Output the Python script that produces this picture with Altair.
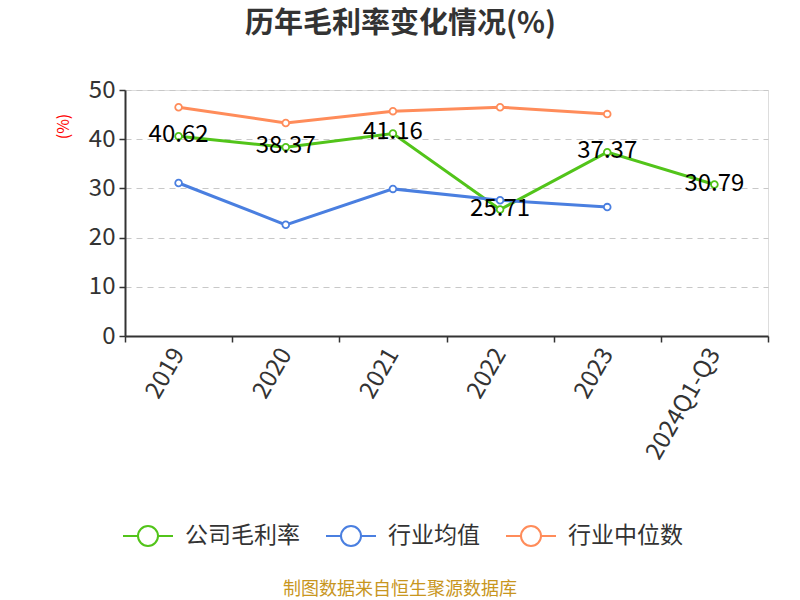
import altair as alt
import pandas as pd

categories = ["2019", "2020", "2021", "2022", "2023", "2024Q1-Q3"]
company = [40.62, 38.37, 41.16, 25.71, 37.37, 30.79]
industry_avg = [31.1, 22.6, 29.9, 27.6, 26.2, None]
industry_median = [46.5, 43.3, 45.7, 46.5, 45.1, None]
series_names = ["公司毛利率", "行业均值", "行业中位数"]
colors = ["#52c41a", "#4a7fe0", "#ff8c5a"]
y_ticks = [0, 10, 20, 30, 40, 50]

rows = []
for name, vals in zip(series_names, [company, industry_avg, industry_median]):
    for c, v in zip(categories, vals):
        if v is not None:
            rows.append({"cat": c, "series": name, "value": v})
df = pd.DataFrame(rows)
df_company = df[df["series"] == series_names[0]].copy()
df_company["label"] = df_company["value"].map(lambda v: f"{v:.2f}")

FONT = "Noto Sans CJK SC"
W, H = 643, 246
PAD_L, PAD_T = 125, 90

x_enc = alt.X("cat:N", sort=categories, scale=alt.Scale(paddingInner=0, paddingOuter=0),
              axis=alt.Axis(title=None, labelAngle=300, labelAlign="right", labelBaseline="middle",
                            labelFontSize=24, labelColor="#333", labelFont=FONT, labelPadding=8,
                            tickBand="extent", tickColor="#333", tickSize=6, tickWidth=1.5,
                            domainColor="#333", domainWidth=2, grid=False))
y_enc = alt.Y("value:Q", scale=alt.Scale(domain=[0, 50], nice=False),
              axis=alt.Axis(values=y_ticks, title="(%)", titleColor="red", titleFontSize=16,
                            titleFontWeight="normal", titleFont=FONT, titleX=-62, titleY=36,
                            titleAlign="center", titleBaseline="middle", titleAngle=270,
                            labelFontSize=24, labelColor="#333", labelFont=FONT, labelPadding=4,
                            tickColor="#333", tickSize=6, tickWidth=1.5,
                            domainColor="#333", domainWidth=2,
                            grid=True, gridDash=[6, 5], gridColor="#c8c8c8", gridWidth=1.2))
color_scale = alt.Scale(domain=series_names, range=colors)
legend_path = "M-1,0L-0.4,0A0.4,0.4,0,1,1,0.4,0A0.4,0.4,0,1,1,-0.4,0M0.4,0L1,0"

lines = alt.Chart(df).mark_line(strokeWidth=3).encode(
    x=x_enc, y=y_enc,
    color=alt.Color("series:N", scale=color_scale, sort=series_names,
                    legend=alt.Legend(title=None, orient="none", direction="horizontal",
                                      legendX=-3, legendY=420, symbolType=legend_path,
                                      symbolSize=2500, symbolStrokeWidth=2, symbolFillColor="white",
                                      labelFontSize=23, labelColor="#333", labelFont=FONT,
                                      labelOffset=11, columnPadding=22, labelLimit=300)),
    detail="series:N",
)
points = alt.Chart(df).mark_point(filled=False, fill="white", size=45, strokeWidth=1.8, opacity=1).encode(
    x=x_enc, y=y_enc,
    color=alt.Color("series:N", scale=color_scale, sort=series_names),
)
labels = alt.Chart(df_company).mark_text(fontSize=24, font=FONT, color="black", baseline="middle", dy=-1).encode(
    x=x_enc, y=y_enc, text="label:N",
)
footer = alt.Chart(pd.DataFrame({"t": ["制图数据来自恒生聚源数据库"]})).mark_text(
    fontSize=18, font=FONT, color="#c8961e", baseline="middle"
).encode(x=alt.value(400 - PAD_L), y=alt.value(590 - PAD_T), text="t:N")

chart = alt.layer(lines, points, labels, footer).properties(
    width=W, height=H, autosize=alt.AutoSizeParams(type="none"),
    padding={"left": PAD_L, "top": PAD_T, "right": 800 - PAD_L - W, "bottom": 600 - PAD_T - H},
    title=alt.TitleParams("历年毛利率变化情况(%)", fontSize=29, fontWeight="bold", font=FONT,
                          color="#333", anchor="middle", frame="group", dx=-46,
                          baseline="middle", offset=25, limit=700),
).configure_view(strokeWidth=0, stroke="transparent").configure(background="white")

chart.save("out.html", embed_options={"renderer": "svg", "actions": False})
